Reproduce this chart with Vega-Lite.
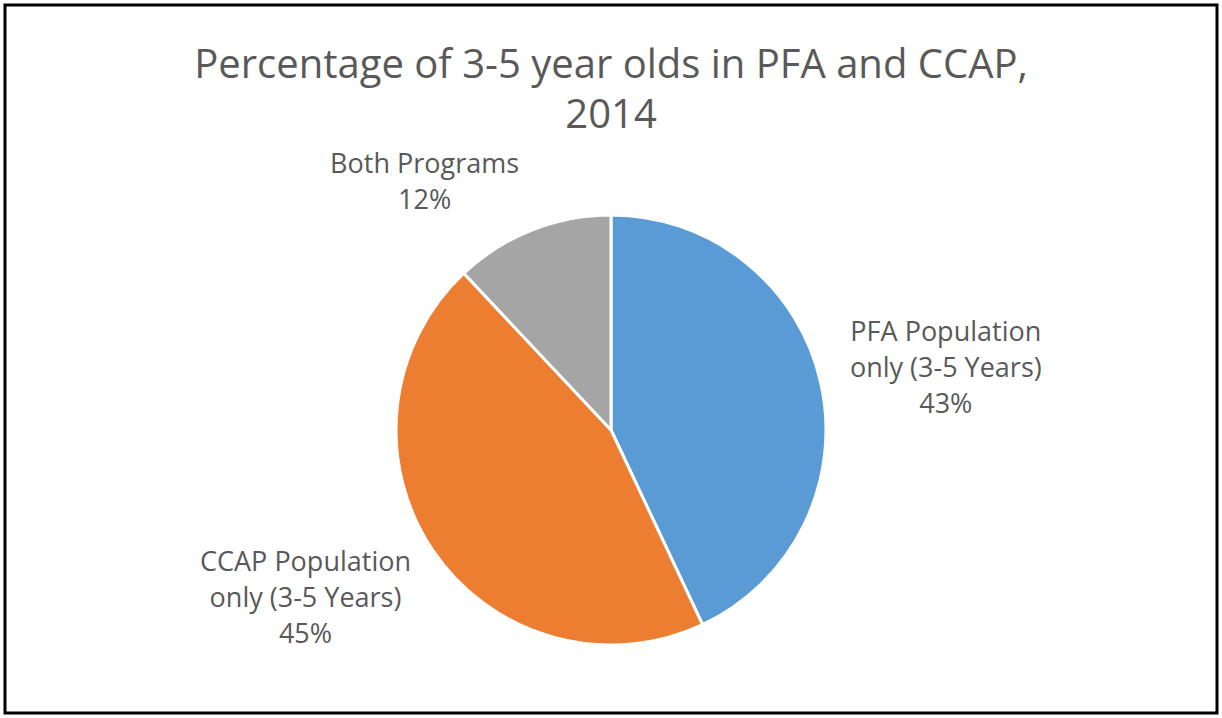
{
  "$schema": "https://vega.github.io/schema/vega-lite/v6.json",
  "width": 1222,
  "height": 718,
  "autosize": {"type": "fit", "contains": "padding"},
  "padding": 5,
  "background": "white",
  "view": {"stroke": "#000000", "strokeWidth": 3},
  "title": {
    "text": ["Percentage of 3-5 year olds in PFA and CCAP,", "2014"],
    "font": "Open Sans",
    "fontSize": 40,
    "fontWeight": "normal",
    "color": "#595959",
    "anchor": "middle",
    "frame": "group",
    "offset": -131,
    "lineHeight": 50
  },
  "data": {
    "values": [
      {"category": "PFA Population only (3-5 Years)", "value": 43},
      {"category": "CCAP Population only (3-5 Years)", "value": 45},
      {"category": "Both Programs", "value": 12}
    ]
  },
  "transform": [
    {"window": [{"op": "row_number", "as": "rank"}]},
    {"stack": "value", "groupby": [], "sort": [{"field": "rank", "order": "ascending"}], "as": ["v0", "v1"]},
    {"calculate": "(datum.v0 + datum.v1) / 2", "as": "mid"},
    {"calculate": "replace(datum.category, ' only', '\\nonly') + '\\n' + datum.value + '%'", "as": "label"}
  ],
  "layer": [
    {
      "mark": {"type": "arc", "outerRadius": 215, "stroke": "white", "strokeWidth": 3, "yOffset": 71},
      "encoding": {
        "theta": {"field": "v0", "type": "quantitative", "scale": {"domain": [0, 100]}},
        "theta2": {"field": "v1"},
        "color": {
          "field": "category",
          "type": "nominal",
          "scale": {
            "domain": ["PFA Population only (3-5 Years)", "CCAP Population only (3-5 Years)", "Both Programs"],
            "range": ["#5B9BD5", "#ED7D31", "#A5A5A5"]
          },
          "legend": null
        }
      }
    },
    {
      "transform": [{"filter": "datum.rank == 1"}],
      "mark": {"type": "text", "radius": 340, "yOffset": 71, "dx": 3, "dy": -23, "font": "Open Sans", "fontSize": 27, "color": "#595959", "lineBreak": "\n", "lineHeight": 36, "align": "center", "baseline": "middle"},
      "encoding": {"theta": {"field": "mid", "type": "quantitative", "scale": {"domain": [0, 100]}}, "text": {"field": "label"}}
    },
    {
      "transform": [{"filter": "datum.rank == 2"}],
      "mark": {"type": "text", "radius": 350, "yOffset": 71, "dx": -16, "dy": -64, "font": "Open Sans", "fontSize": 27, "color": "#595959", "lineBreak": "\n", "lineHeight": 36, "align": "center", "baseline": "middle"},
      "encoding": {"theta": {"field": "mid", "type": "quantitative", "scale": {"domain": [0, 100]}}, "text": {"field": "label"}}
    },
    {
      "transform": [{"filter": "datum.rank == 3"}],
      "mark": {"type": "text", "radius": 270, "yOffset": 71, "dx": -87, "dy": -14, "font": "Open Sans", "fontSize": 27, "color": "#595959", "lineBreak": "\n", "lineHeight": 36, "align": "center", "baseline": "middle"},
      "encoding": {"theta": {"field": "mid", "type": "quantitative", "scale": {"domain": [0, 100]}}, "text": {"field": "label"}}
    }
  ]
}
